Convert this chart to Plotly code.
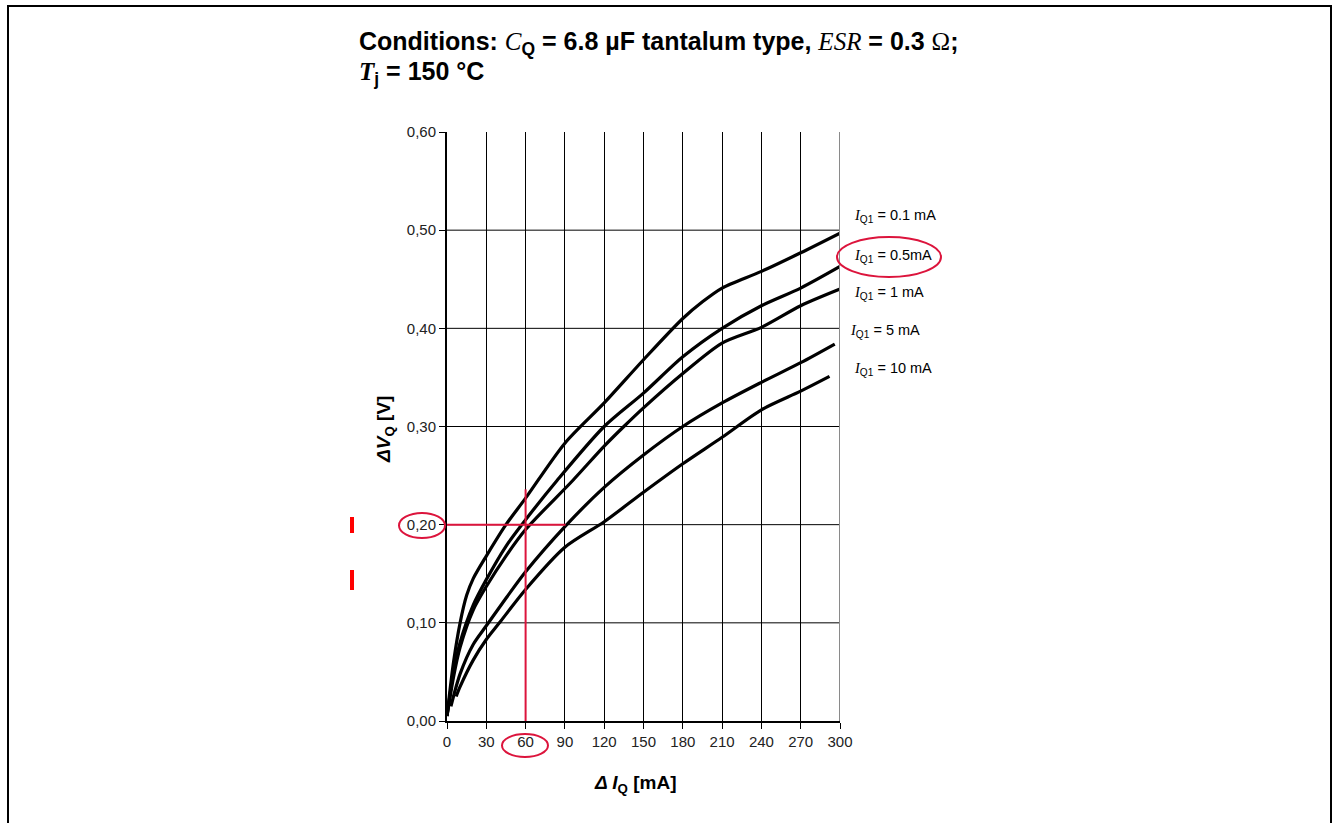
import plotly.graph_objects as go

# Output-voltage deviation vs. load-current step, one curve per quiescent current
iq_labels = ["0.1 mA", "0.5mA", "1 mA", "5 mA", "10 mA"]

di_01 = [0, 5, 10, 15, 20, 30, 45, 60, 90, 120, 150, 180, 195, 210, 240, 270, 300]
dv_01 = [0.005, 0.060, 0.100, 0.128, 0.145, 0.168, 0.200, 0.227, 0.283, 0.324, 0.368, 0.410, 0.427, 0.441, 0.458, 0.477, 0.497]

di_05 = [0, 5, 10, 20, 30, 45, 60, 84, 120, 150, 180, 210, 240, 270, 300]
dv_05 = [0.005, 0.050, 0.080, 0.118, 0.144, 0.178, 0.205, 0.245, 0.300, 0.334, 0.371, 0.400, 0.423, 0.441, 0.463]

di_1 = [0, 5, 10, 20, 30, 45, 60, 96, 120, 135, 150, 180, 210, 240, 270, 300]
dv_1 = [0.005, 0.045, 0.075, 0.113, 0.137, 0.168, 0.195, 0.245, 0.280, 0.300, 0.319, 0.354, 0.385, 0.401, 0.423, 0.440]

di_5 = [3, 10, 20, 30, 45, 60, 90, 120, 150, 180, 210, 240, 270, 296]
dv_5 = [0.015, 0.048, 0.078, 0.097, 0.125, 0.152, 0.198, 0.238, 0.271, 0.300, 0.324, 0.345, 0.365, 0.384]

di_10 = [7, 10, 20, 30, 40, 60, 90, 120, 150, 180, 210, 240, 270, 292]
dv_10 = [0.025, 0.035, 0.062, 0.083, 0.100, 0.134, 0.177, 0.203, 0.233, 0.262, 0.289, 0.317, 0.336, 0.351]

x_ticks = [0, 30, 60, 90, 120, 150, 180, 210, 240, 270, 300]
y_ticks = [0.0, 0.1, 0.2, 0.3, 0.4, 0.5, 0.6]
h_grid = [0.1, 0.2, 0.3, 0.4, 0.5]

# Highlighted reading point
mark_i = 60
mark_v = 0.2

series = [(di_01, dv_01), (di_05, dv_05), (di_1, dv_1), (di_5, dv_5), (di_10, dv_10)]

W, H = 1333, 823
L, R, T, B = 447, 493, 132, 102
PW, PH = W - L - R, H - T - B


def px(x):
    return (x - L) / PW


def py(y):
    return (H - B - y) / PH


fig = go.Figure()
for (xs, ys), lab in zip(series, iq_labels):
    fig.add_trace(go.Scatter(
        x=xs, y=ys, mode="lines", name=lab,
        line=dict(color="black", width=3.2, shape="spline", smoothing=0.8),
        showlegend=False, hoverinfo="skip",
    ))

SANS = "Liberation Sans, Arial, sans-serif"
SERIF = "Liberation Serif, Times New Roman, serif"
RED = "#DC143C"

shapes = []
for v in h_grid:
    shapes.append(dict(type="line", xref="x", yref="y", x0=0, x1=300, y0=v, y1=v,
                       line=dict(color="black", width=1), layer="below"))
# right border of plot area
shapes.append(dict(type="line", xref="x", yref="y", x0=300, x1=300, y0=0, y1=0.6,
                   line=dict(color="#8a8a8a", width=2)))
# red reading cross-hair
shapes.append(dict(type="line", xref="x", yref="y", x0=-2, x1=90.5, y0=mark_v, y1=mark_v,
                   line=dict(color=RED, width=2)))
shapes.append(dict(type="line", xref="x", yref="y", x0=mark_i, x1=mark_i, y0=0, y1=0.236,
                   line=dict(color=RED, width=2)))
# red ellipses round the read values
shapes.append(dict(type="circle", xref="paper", yref="paper",
                   x0=px(502), x1=px(548), y0=py(757), y1=py(734),
                   line=dict(color=RED, width=2)))
shapes.append(dict(type="circle", xref="paper", yref="paper",
                   x0=px(399), x1=px(445), y0=py(538), y1=py(513),
                   line=dict(color=RED, width=2)))
shapes.append(dict(type="circle", xref="paper", yref="paper",
                   x0=px(837), x1=px(941), y0=py(277), y1=py(237),
                   line=dict(color=RED, width=2)))
# red side marks
for y0, y1 in [(517, 533), (570, 590)]:
    shapes.append(dict(type="rect", xref="paper", yref="paper",
                       x0=px(350), x1=px(354), y0=py(y1), y1=py(y0),
                       fillcolor="#FF0000", line=dict(width=0)))
# page frame
shapes.append(dict(type="rect", xref="paper", yref="paper",
                   x0=px(8), x1=px(1331), y0=py(860), y1=py(6),
                   line=dict(color="black", width=2)))

annotations = []
# title
annotations.append(dict(
    xref="paper", yref="paper", x=px(357), y=py(43), xanchor="left", yanchor="middle",
    showarrow=False, font=dict(family=SANS, size=25, color="black"),
    text=("<b>Conditions: </b><span style='font-family:" + SERIF + "'><i>C</i></span>"
          "<b><sub>Q</sub> = 6.8 µF tantalum type, </b>"
          "<span style='font-family:" + SERIF + "'><i>ESR</i></span><b> = 0.3 </b>"
          "<span style='font-family:" + SERIF + "'>Ω</span><b>;</b>"),
))
annotations.append(dict(
    xref="paper", yref="paper", x=px(357), y=py(73), xanchor="left", yanchor="middle",
    showarrow=False, font=dict(family=SANS, size=25, color="black"),
    text=("<span style='font-family:" + SERIF + "'><b><i>T</i></b></span>"
          "<b><sub>j</sub> = 150 °C</b>"),
))
# curve labels
label_pos = [(852, 216), (852, 256), (852, 293), (848, 331), (852, 369)]
for lab, (lx, ly) in zip(iq_labels, label_pos):
    annotations.append(dict(
        xref="paper", yref="paper", x=px(lx), y=py(ly), xanchor="left", yanchor="middle",
        showarrow=False, font=dict(family=SANS, size=14.5, color="black"),
        text=("<span style='font-family:" + SERIF + "'><i>I</i></span>"
              "<sub>Q1</sub> = " + lab),
    ))
# axis titles
annotations.append(dict(
    xref="paper", yref="paper", x=px(635), y=py(784), xanchor="center", yanchor="middle",
    showarrow=False, font=dict(family=SANS, size=19, color="black"),
    text="<b><i>Δ I</i><sub>Q</sub> [mA]</b>",
))
annotations.append(dict(
    xref="paper", yref="paper", x=px(385), y=py(430), xanchor="center", yanchor="middle",
    showarrow=False, textangle=-90, font=dict(family=SANS, size=19, color="black"),
    text="<b><i>ΔV</i><sub>Q</sub> [V]</b>",
))

fig.update_layout(
    width=W, height=H,
    margin=dict(l=L, r=R, t=T, b=B, pad=0),
    paper_bgcolor="white", plot_bgcolor="white",
    separators=",.",
    font=dict(family=SANS, size=15, color="#222"),
    xaxis=dict(range=[0, 300], tickmode="array", tickvals=x_ticks,
               showgrid=True, gridcolor="black", gridwidth=1, zeroline=False,
               showline=True, linecolor="black", linewidth=2,
               ticks="outside", ticklen=6, tickcolor="black", tickwidth=1,
               tickfont=dict(family=SANS, size=15, color="#222")),
    yaxis=dict(range=[0, 0.6], tickmode="array", tickvals=y_ticks, tickformat=".2f",
               showgrid=False, zeroline=False,
               showline=True, linecolor="black", linewidth=2,
               ticks="outside", ticklen=6, tickcolor="black", tickwidth=1,
               tickfont=dict(family=SANS, size=15, color="#222")),
    shapes=shapes, annotations=annotations,
)

fig.write_html("out.html")
